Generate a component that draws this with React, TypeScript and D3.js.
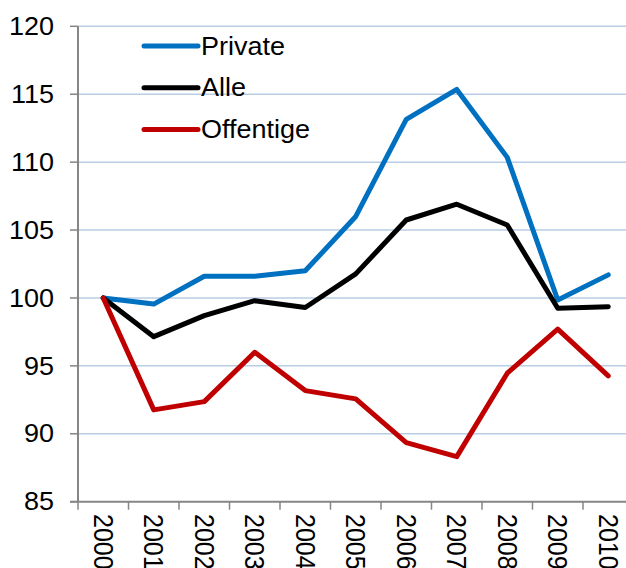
import React from "react";
import * as d3 from "d3";

const years = ["2000","2001","2002","2003","2004","2005","2006","2007","2008","2009","2010"];
const privateVals = [100, 99.55, 101.6, 101.6, 102.0, 106.0, 113.15, 115.35, 110.35, 99.85, 101.7];
const alleVals = [100, 97.15, 98.7, 99.8, 99.3, 101.77, 105.74, 106.9, 105.37, 99.24, 99.36];
const offentigeVals = [100, 91.76, 92.37, 96.0, 93.18, 92.57, 89.35, 88.32, 94.46, 97.7, 94.26];
const yTicks = [85, 90, 95, 100, 105, 110, 115, 120];

const seriesList = [
  { name: "Private", values: privateVals, color: "#0070C0" },
  { name: "Alle", values: alleVals, color: "#000000" },
  { name: "Offentige", values: offentigeVals, color: "#C00000" },
];

const W = 626;
const H = 568;
const left = 78;
const right = 633.5;
const top = 26.3;
const bottom = 501.7;
const SX = 1.08;
const FONT = "'Liberation Sans', Arial, sans-serif";

export default function App() {
  const x = d3.scaleBand<string>().domain(years).range([left, right]).padding(0);
  const y = d3.scaleLinear().domain([85, 120]).range([bottom, top]);
  const cx = (yr: string) => (x(yr) as number) + x.bandwidth() / 2;

  const line = (vals: number[]) =>
    d3.line<number>().x((_, i) => cx(years[i])).y((v) => y(v))(vals) as string;

  const boundaries = years.map((yr) => x(yr) as number).concat([right]);

  return (
    <svg width={W} height={H} style={{ position: "absolute", left: 0, top: 0, background: "#fff" }}>
      {yTicks.filter((t) => t !== 85).map((t) => (
        <line key={"g" + t} x1={left} x2={W} y1={y(t)} y2={y(t)} stroke="#B9CDE5" strokeWidth={1.5} />
      ))}
      {yTicks.map((t) => (
        <line key={"yt" + t} x1={70} x2={left} y1={y(t)} y2={y(t)} stroke="#868686" strokeWidth={1.5} />
      ))}
      {yTicks.map((t) => (
        <g key={"yl" + t} transform={`translate(54,${y(t)}) scale(${SX},1)`}>
          <text textAnchor="end" dominantBaseline="central" fontFamily={FONT} fontSize={25} fill="#000">
            {t}
          </text>
        </g>
      ))}
      <line x1={left} x2={left} y1={top} y2={bottom} stroke="#868686" strokeWidth={2} />
      <line x1={70} x2={W} y1={bottom} y2={bottom} stroke="#868686" strokeWidth={2} />
      {boundaries.map((b, i) => (
        <line key={"xt" + i} x1={b} x2={b} y1={bottom} y2={bottom + 8} stroke="#868686" strokeWidth={1.5} />
      ))}
      {years.map((yr) => (
        <g key={"xl" + yr} transform={`translate(${cx(yr)},514) scale(${SX},1) rotate(90)`}>
          <text textAnchor="start" dominantBaseline="central" fontFamily={FONT} fontSize={25} fill="#000">
            {yr}
          </text>
        </g>
      ))}
      {seriesList.map((s) => (
        <path key={s.name} d={line(s.values)} fill="none" stroke={s.color} strokeWidth={5} strokeLinejoin="round" strokeLinecap="round" />
      ))}
      {seriesList.map((s, i) => {
        const ly = 46 + i * 41.8;
        return (
          <g key={"lg" + s.name}>
            <line x1={144} x2={198} y1={ly} y2={ly} stroke={s.color} strokeWidth={5} strokeLinecap="round" />
            <g transform={`translate(201,${ly}) scale(${SX},1)`}>
              <text dominantBaseline="central" fontFamily={FONT} fontSize={25} fill="#000">
                {s.name}
              </text>
            </g>
          </g>
        );
      })}
    </svg>
  );
}
